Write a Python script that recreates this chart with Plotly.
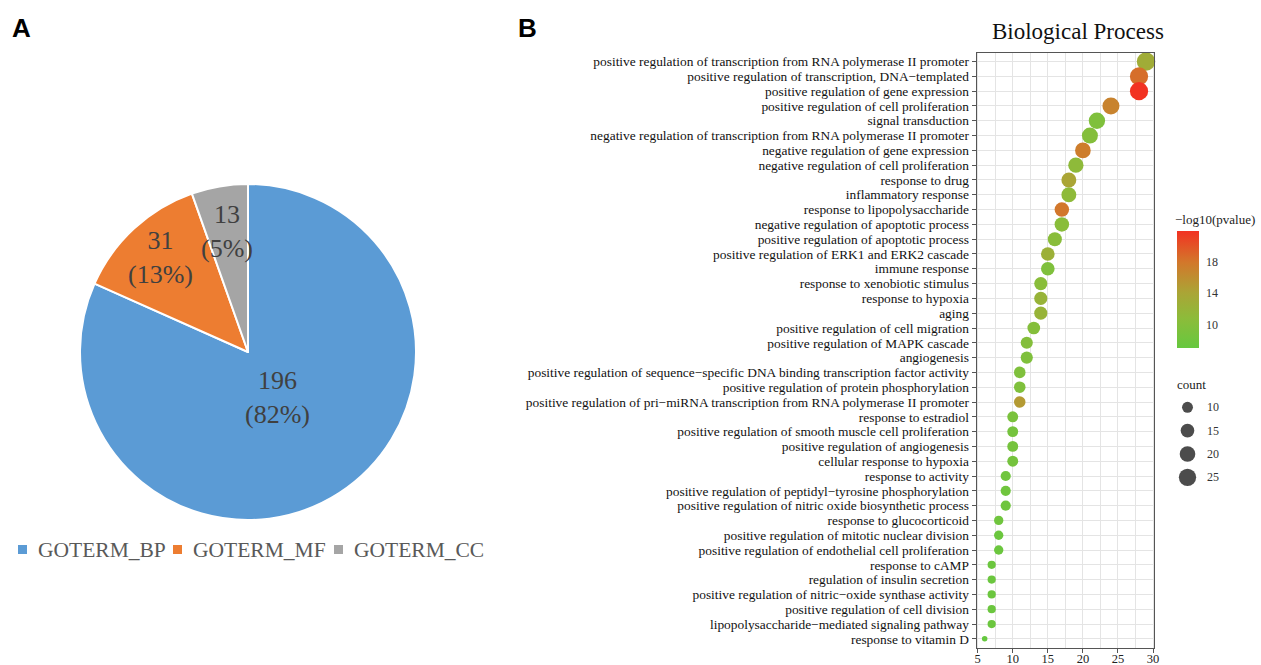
import math
import plotly.graph_objects as go

W, H = 1261, 665

# ---- panel A: GO category counts ----
go_terms = ["GOTERM_BP", "GOTERM_MF", "GOTERM_CC"]
go_counts = [196, 31, 13]
go_colors = ["#5B9BD5", "#ED7D31", "#A5A5A5"]

# ---- panel B: enriched biological process terms (top to bottom) ----
bp_terms = [
    "positive regulation of transcription from RNA polymerase II promoter",
    "positive regulation of transcription, DNA−templated",
    "positive regulation of gene expression",
    "positive regulation of cell proliferation",
    "signal transduction",
    "negative regulation of transcription from RNA polymerase II promoter",
    "negative regulation of gene expression",
    "negative regulation of cell proliferation",
    "response to drug",
    "inflammatory response",
    "response to lipopolysaccharide",
    "negative regulation of apoptotic process",
    "positive regulation of apoptotic process",
    "positive regulation of ERK1 and ERK2 cascade",
    "immune response",
    "response to xenobiotic stimulus",
    "response to hypoxia",
    "aging",
    "positive regulation of cell migration",
    "positive regulation of MAPK cascade",
    "angiogenesis",
    "positive regulation of sequence−specific DNA binding transcription factor activity",
    "positive regulation of protein phosphorylation",
    "positive regulation of pri−miRNA transcription from RNA polymerase II promoter",
    "response to estradiol",
    "positive regulation of smooth muscle cell proliferation",
    "positive regulation of angiogenesis",
    "cellular response to hypoxia",
    "response to activity",
    "positive regulation of peptidyl−tyrosine phosphorylation",
    "positive regulation of nitric oxide biosynthetic process",
    "response to glucocorticoid",
    "positive regulation of mitotic nuclear division",
    "positive regulation of endothelial cell proliferation",
    "response to cAMP",
    "regulation of insulin secretion",
    "positive regulation of nitric−oxide synthase activity",
    "positive regulation of cell division",
    "lipopolysaccharide−mediated signaling pathway",
    "response to vitamin D",
]
bp_counts = [29, 28, 28, 24, 22, 21, 20, 19, 18, 18,
             17, 17, 16, 15, 15, 14, 14, 14, 13, 12,
             12, 11, 11, 11, 10, 10, 10, 10, 9, 9,
             9, 8, 8, 8, 7, 7, 7, 7, 7, 6]
bp_logp = [13.0, 18.5, 22.0, 17.0, 9.5, 10.0, 17.5, 11.0, 14.0, 11.0,
           18.0, 10.5, 10.5, 12.5, 9.5, 10.5, 12.0, 12.0, 10.0, 10.0,
           9.5, 9.5, 9.5, 15.0, 9.0, 8.5, 8.5, 8.5, 8.0, 8.0,
           8.0, 8.0, 7.5, 7.5, 7.5, 7.5, 7.5, 7.5, 7.5, 7.0]
count_ticks = [5, 10, 15, 20, 25, 30]
colorbar_ticks = [10, 14, 18]
size_legend_counts = [10, 15, 20, 25]

SERIF = "Liberation Serif, Times New Roman, serif"
SANS = "Liberation Sans, Arial, sans-serif"

green_red = [
    [0.0, "#66C83F"], [0.25, "#8CBC3A"], [0.47, "#AAA536"],
    [0.73, "#D2782B"], [1.0, "#F23222"],
]
cmin, cmax = 7, 22


def dot_diameter(c, lo=min(bp_counts), hi=max(bp_counts)):
    # area-style size scale: diameter grows with sqrt of rescaled count
    return 5.5 + 13.0 * math.sqrt(max(c - lo, 0) / (hi - lo))


def px_x(p):
    return p / W


def px_y(p):
    return 1 - p / H


def note(x, y, text, size, color, family=SERIF, xanchor="center", **kw):
    return dict(x=x, y=y, xref=kw.pop("xref", "paper"), yref=kw.pop("yref", "paper"),
                xanchor=xanchor, yanchor="middle", showarrow=False, text=text,
                font=dict(family=family, size=size, color=color), **kw)


fig = go.Figure()

# pie placement
pie_cx, pie_cy, pie_r = 248, 352, 168
fig.add_trace(go.Pie(
    labels=go_terms, values=go_counts, sort=False, direction="clockwise",
    rotation=0, marker=dict(colors=go_colors, line=dict(color="white", width=2)),
    textinfo="none", hoverinfo="label+value+percent",
    domain=dict(x=[px_x(pie_cx - pie_r), px_x(pie_cx + pie_r)],
                y=[px_y(pie_cy + pie_r), px_y(pie_cy - pie_r)]),
    showlegend=False,
))

# slice labels: value and share, placed along each slice's mid angle
label_radius = [0.32, 0.77, 0.73]
total = sum(go_counts)
start = 0.0
annotations = []
for n, rf in zip(go_counts, label_radius):
    frac = n / total
    mid = (start + frac / 2) * 2 * math.pi
    start += frac
    lx = pie_cx + rf * pie_r * math.sin(mid)
    ly = pie_cy - rf * pie_r * math.cos(mid)
    annotations.append(note(px_x(lx), px_y(ly), f"{n}<br>({round(frac * 100)}%)",
                            26, "#404040", align="center"))

# pie key below the chart
shapes = []
key_x = [18, 173, 334]
key_y = 549.5
for term, col, kx in zip(go_terms, go_colors, key_x):
    shapes.append(dict(type="rect", xref="paper", yref="paper",
                       x0=px_x(kx), x1=px_x(kx + 9), y0=px_y(key_y + 4.5), y1=px_y(key_y - 4.5),
                       fillcolor=col, line=dict(width=0)))
    annotations.append(note(px_x(kx + 18), px_y(key_y), term, 21.5, "#595959", xanchor="left"))

# bubble plot
fig.add_trace(go.Scatter(
    x=bp_counts, y=bp_terms, mode="markers", xaxis="x2", yaxis="y2",
    cliponaxis=False, showlegend=False,
    marker=dict(
        size=[dot_diameter(c) for c in bp_counts], sizemode="diameter",
        color=bp_logp, colorscale=green_red, cmin=cmin, cmax=cmax,
        line=dict(width=0), opacity=1,
        colorbar=dict(
            x=px_x(1176.7), xanchor="left", y=px_y(289.3), yanchor="middle",
            len=116.7, lenmode="pixels", thickness=21.6, thicknessmode="pixels",
            outlinewidth=0, tickvals=colorbar_ticks, ticks="outside", ticklen=5,
            tickcolor="rgba(0,0,0,0)",
            tickfont=dict(family=SERIF, size=12, color="#333333"),
            xpad=0, ypad=0,
        ),
    ),
))
annotations.append(note(px_x(1173), px_y(219), "−log10(pvalue)", 13, "#222222", xanchor="left"))

# size key for count
fig.add_trace(go.Scatter(
    x=[0.25] * len(size_legend_counts), y=list(range(len(size_legend_counts))),
    mode="markers", xaxis="x3", yaxis="y3", showlegend=False, hoverinfo="skip",
    marker=dict(size=[dot_diameter(c) for c in size_legend_counts],
                sizemode="diameter", color="black", line=dict(width=0)),
))
for i, c in enumerate(size_legend_counts):
    annotations.append(note(0.6, i, str(c), 12, "#333333", xanchor="left",
                            xref="x3", yref="y3"))
annotations.append(note(px_x(1175), px_y(384), "count", 13, "#222222", xanchor="left"))

# panel letters and title
annotations += [
    note(px_x(10), px_y(28), "<b>A</b>", 26, "black", family=SANS, xanchor="left"),
    note(px_x(516), px_y(28), "<b>B</b>", 26, "black", family=SANS, xanchor="left"),
    note(px_x(1078), px_y(32), "Biological Process", 23, "#111111"),
]

grid_col = "#E4E4E4"
fig.update_layout(
    width=W, height=H, margin=dict(l=0, r=0, t=0, b=0, autoexpand=False),
    paper_bgcolor="white", plot_bgcolor="white",
    annotations=annotations, shapes=shapes, showlegend=False,
    xaxis2=dict(
        domain=[px_x(976.6), px_x(1154.1)], anchor="y2", range=[4.85, 30.15],
        tickmode="array", tickvals=count_ticks, showgrid=True, gridcolor=grid_col,
        gridwidth=1, minor=dict(dtick=2.5, tick0=0, showgrid=True, gridcolor=grid_col, gridwidth=1),
        showline=True, mirror=True, linecolor="#555555", linewidth=1,
        ticks="outside", ticklen=4, tickcolor="#555555", zeroline=False, automargin=False,
        ticklabelstandoff=-5,
        tickfont=dict(family=SERIF, size=12.5, color="#222222"),
    ),
    yaxis2=dict(
        domain=[px_y(647.7), px_y(52.7)], anchor="x2", type="category",
        categoryorder="array", categoryarray=bp_terms,
        tickmode="array", tickvals=bp_terms, ticktext=bp_terms,
        range=[len(bp_terms) - 0.4, -0.6],
        showgrid=True, gridcolor=grid_col, gridwidth=1,
        showline=True, mirror=True, linecolor="#555555", linewidth=1,
        ticks="outside", ticklen=4, tickcolor="#555555", zeroline=False, automargin=False,
        tickfont=dict(family=SERIF, size=13.4, color="#111111"),
    ),
    xaxis3=dict(domain=[px_x(1175), px_x(1225)], anchor="y3", range=[0, 1],
                visible=False, fixedrange=True, automargin=False),
    yaxis3=dict(domain=[px_y(489), px_y(395.6)], anchor="x3", range=[3.5, -0.5],
                visible=False, fixedrange=True, automargin=False),
)

fig.write_html("out.html")
